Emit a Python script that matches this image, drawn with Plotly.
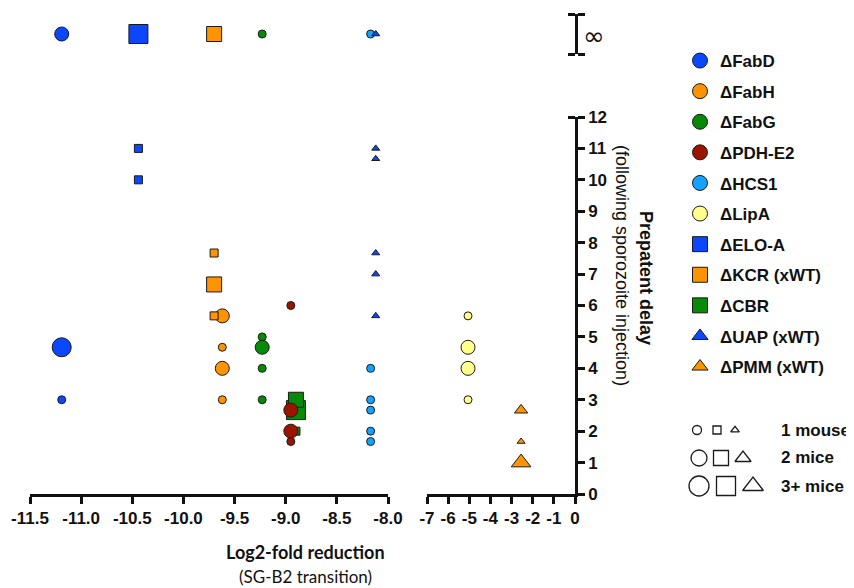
import plotly.graph_objects as go

INF = float("inf")  # points drawn on the "infinity" row (no patency)

# ---------------- data ----------------
FABD_X = [-11.19, -11.19, -11.19]
FABD_Y = [INF, 4.67, 3.0]
FABD_N = [2, 3, 1]

FABH_X = [-9.62, -9.62, -9.62, -9.62]
FABH_Y = [5.67, 4.67, 4.0, 3.0]
FABH_N = [2, 1, 2, 1]

FABG_X = [-9.23, -9.23, -9.23, -9.23, -9.23]
FABG_Y = [INF, 5.0, 4.67, 4.0, 3.0]
FABG_N = [1, 1, 2, 1, 1]

PDH_X = [-8.95, -8.95, -8.95, -8.95]
PDH_Y = [6.0, 2.67, 2.0, 1.67]
PDH_N = [1, 2, 2, 1]

HCS1_X = [-8.17, -8.17, -8.17, -8.17, -8.17, -8.17]
HCS1_Y = [INF, 4.0, 3.0, 2.67, 2.0, 1.67]
HCS1_N = [1, 1, 1, 1, 1, 1]

LIPA_X = [-5.06, -5.06, -5.06, -5.06]
LIPA_Y = [5.67, 4.67, 4.0, 3.0]
LIPA_N = [1, 2, 2, 1]

ELOA_X = [-10.44, -10.44, -10.44]
ELOA_Y = [INF, 11.0, 10.0]
ELOA_N = [3, 1, 1]

KCR_X = [-9.70, -9.70, -9.70, -9.70]
KCR_Y = [INF, 7.67, 6.67, 5.67]
KCR_N = [2, 1, 2, 1]

CBR_X = [-8.90, -8.90, -8.90]
CBR_Y = [2.67, 3.0, 2.0]
CBR_N = [3, 2, 1]

UAP_X = [-8.12, -8.12, -8.12, -8.12, -8.12, -8.12]
UAP_Y = [INF, 11.0, 10.67, 7.67, 7.0, 5.67]
UAP_N = [1, 1, 1, 1, 1, 1]

PMM_X = [-2.55, -2.55, -2.55]
PMM_Y = [2.67, 1.67, 1.0]
PMM_N = [2, 1, 3]

SERIES_NAMES = ["ΔFabD", "ΔFabH", "ΔFabG", "ΔPDH-E2", "ΔHCS1", "ΔLipA",
                "ΔELO-A", "ΔKCR (xWT)", "ΔCBR", "ΔUAP (xWT)", "ΔPMM (xWT)"]

X1_TICKS = [-11.5, -11.0, -10.5, -10.0, -9.5, -9.0, -8.5, -8.0]
X1_LABELS = ["-11.5", "-11.0", "-10.5", "-10.0", "-9.5", "-9.0", "-8.5", "-8.0"]
X2_TICKS = [-7, -6, -5, -4, -3, -2, -1, 0]
X2_LABELS = ["-7", "-6", "-5", "-4", "-3", "-2", "-1", "0"]
Y_TICKS = list(range(0, 13))
Y_LABELS = [str(v) for v in Y_TICKS]

SIZE_KEY_LABELS = ["1 mouse", "2 mice", "3+ mice"]

# ---------------- styling ----------------
BLUE = "#0a47ff"
ORANGE = "#ff9400"
GREEN = "#078a07"
DRED = "#9a1400"
LBLUE = "#14a2ff"
YELLOW = "#ffff8a"

SIZES = {"circle": {1: 8, 2: 14, 3: 19},
         "square": {1: 8, 2: 15, 3: 19},
         "triangle-up": {1: 7, 2: 11.5, 3: 17}}
KEY_SIZES = {"circle": {1: 9, 2: 16, 3: 20},
             "square": {1: 8, 2: 15, 3: 19},
             "triangle-up": {1: 7.5, 2: 14, 3: 18}}

series = [
    (SERIES_NAMES[0], FABD_X, FABD_Y, FABD_N, "circle", BLUE, "left"),
    (SERIES_NAMES[1], FABH_X, FABH_Y, FABH_N, "circle", ORANGE, "left"),
    (SERIES_NAMES[2], FABG_X, FABG_Y, FABG_N, "circle", GREEN, "left"),
    (SERIES_NAMES[8], CBR_X, CBR_Y, CBR_N, "square", GREEN, "left"),
    (SERIES_NAMES[3], PDH_X, PDH_Y, PDH_N, "circle", DRED, "left"),
    (SERIES_NAMES[4], HCS1_X, HCS1_Y, HCS1_N, "circle", LBLUE, "left"),
    (SERIES_NAMES[5], LIPA_X, LIPA_Y, LIPA_N, "circle", YELLOW, "right"),
    (SERIES_NAMES[6], ELOA_X, ELOA_Y, ELOA_N, "square", BLUE, "left"),
    (SERIES_NAMES[7], KCR_X, KCR_Y, KCR_N, "square", ORANGE, "left"),
    (SERIES_NAMES[9], UAP_X, UAP_Y, UAP_N, "triangle-up", BLUE, "left"),
    (SERIES_NAMES[10], PMM_X, PMM_Y, PMM_N, "triangle-up", ORANGE, "right"),
]

legend_style = {name: (sym, col) for name, _, _, _, sym, col, _ in series}

# pixel helpers: page has an 8px body margin, so the figure starts at (8, 8)
OFF = 8
W, H = 854 - OFF, 588 - OFF
L, R, T, B = 30 - OFF, 0, 14 - OFF, 588 - 494
PW, PH = W - L - R, H - T - B
def px(x):  # page x pixel -> paper
    return (x - OFF - L) / PW
def py(y):  # page y pixel -> paper
    return (H - B - (y - OFF)) / PH

LINE = dict(color="#1a1a1a", width=1)
fig = go.Figure()

for name, xs, ys, ns, sym, col, panel in series:
    xa = "x" if panel == "left" else "x2"
    main = [(x, y, n) for x, y, n in zip(xs, ys, ns) if y != INF]
    top = [(x, y, n) for x, y, n in zip(xs, ys, ns) if y == INF]
    if main:
        fig.add_trace(go.Scatter(
            x=[p[0] for p in main], y=[p[1] for p in main], mode="markers",
            xaxis=xa, yaxis="y", showlegend=False, name=name, cliponaxis=False,
            marker=dict(symbol=sym, color=col, opacity=1,
                        size=[SIZES[sym][p[2]] for p in main], line=LINE)))
    if top:
        fig.add_trace(go.Scatter(
            x=[p[0] for p in top], y=[0.5] * len(top), mode="markers",
            xaxis=xa, yaxis="y3", showlegend=False, name=name, cliponaxis=False,
            marker=dict(symbol=sym, color=col, opacity=1,
                        size=[SIZES[sym][p[2]] for p in top], line=LINE)))

# legend entries (legend order)
for i, name in enumerate(SERIES_NAMES):
    sym, col = legend_style[name]
    fig.add_trace(go.Scatter(
        x=[None], y=[None], mode="markers", name=name, legendgroup=f"g{i}",
        xaxis="x", yaxis="y",
        marker=dict(symbol=sym, color=col, opacity=1,
                    size=15 if sym != "triangle-up" else 14, line=LINE)))

# size key (hollow markers)
KEY_SYMBOLS = ["circle", "square", "triangle-up"]
KEY_X = [[7, 27, 45], [9, 31, 53], [9, 36, 63]]
for r, lab in enumerate(SIZE_KEY_LABELS):
    n = r + 1
    fig.add_trace(go.Scatter(
        x=KEY_X[r], y=[n] * 3, mode="markers", xaxis="x3", yaxis="y4", showlegend=False,
        cliponaxis=False,
        marker=dict(symbol=KEY_SYMBOLS, color="white", opacity=1,
                    size=[KEY_SIZES[s][n] for s in KEY_SYMBOLS],
                    line=dict(color="#1a1a1a", width=1.3))))

TICKFONT = dict(family="Liberation Sans", size=17, color="#111", weight="bold")
AXLINE = dict(showline=True, linecolor="#111", linewidth=2.5, ticks="outside",
              ticklen=7, tickwidth=2.5, tickcolor="#111", showgrid=False, zeroline=False,
              tickfont=TICKFONT, automargin=False)
CAP = dict(showline=False, ticks="outside", ticklen=7, tickwidth=3, tickcolor="#111",
           showticklabels=False, showgrid=False, zeroline=False)

fig.update_layout(
    width=W, height=H,
    margin=dict(l=L, r=R, t=T, b=B, autoexpand=False),
    paper_bgcolor="white", plot_bgcolor="white",
    xaxis=dict(domain=[0, px(388)], range=[-11.5, -8.0], anchor="y",
               tickmode="array", tickvals=X1_TICKS, ticktext=X1_LABELS, **AXLINE),
    xaxis2=dict(domain=[px(427), px(575)], range=[-7, 0], anchor="y",
                tickmode="array", tickvals=X2_TICKS, ticktext=X2_LABELS, **AXLINE),
    yaxis=dict(domain=[0, py(117)], range=[0, 12], anchor="x2", side="right",
               tickmode="array", tickvals=Y_TICKS, ticktext=Y_LABELS, **AXLINE),
    yaxis6=dict(domain=[0, py(117)], range=[0, 12], overlaying="y", anchor="free",
                position=px(575), side="left", tickvals=[12], **CAP),
    yaxis3=dict(domain=[py(54), py(14)], range=[0, 1], anchor="x2", side="right",
                showline=True, linecolor="#111", linewidth=3, ticks="outside", ticklen=7,
                tickwidth=3, tickcolor="#111", tickvals=[0, 1], showticklabels=False,
                showgrid=False, zeroline=False),
    yaxis5=dict(domain=[py(54), py(14)], range=[0, 1], overlaying="y3", anchor="free",
                position=px(575), side="left", tickvals=[0, 1], **CAP),
    xaxis3=dict(domain=[px(690), px(770)], range=[0, 80], anchor="y4", visible=False),
    yaxis4=dict(domain=[py(494), py(422)], range=[3.286, 0.714], anchor="x3", visible=False),
    showlegend=True,
    legend=dict(x=px(680), y=py(43), xanchor="left", yanchor="top",
                traceorder="grouped", tracegroupgap=5.5, itemsizing="trace",
                font=dict(family="Liberation Sans", size=17, color="#111", weight="bold"),
                bgcolor="rgba(0,0,0,0)"),
)

# traces that render the overlay cap axes
fig.add_trace(go.Scatter(x=[None], y=[None], xaxis="x", yaxis="y5", showlegend=False))
fig.add_trace(go.Scatter(x=[None], y=[None], xaxis="x", yaxis="y6", showlegend=False))

def ann(text, x, y, font, **kw):
    d = dict(text=text, x=px(x), y=py(y), xref="paper", yref="paper", showarrow=False,
             xanchor="center", yanchor="middle", font=font)
    d.update(kw)
    return d

annotations = [
    ann("∞", 594, 36, dict(family="DejaVu Sans", size=26, color="#111")),
    ann("Log2-fold reduction", 305, 552,
        dict(family="Lato", size=18, color="#111", weight="bold")),
    ann("(SG-B2 transition)", 305, 576, dict(family="Lato", size=17, color="#111")),
    ann("Prepatent delay", 646, 278,
        dict(family="Liberation Sans", size=18, color="#111", weight="bold"), textangle=90),
    ann("(following sporozoite injection)", 622, 265,
        dict(family="Liberation Sans", size=18, color="#111"), textangle=90),
]
KEY_ROW_Y = [430, 457, 486]
for r, lab in enumerate(SIZE_KEY_LABELS):
    annotations.append(ann(lab, 779, KEY_ROW_Y[r],
                           dict(family="Liberation Sans", size=17, color="#111",
                                weight="bold"), xanchor="left"))
fig.update_layout(annotations=annotations)

fig.write_html("out.html")
